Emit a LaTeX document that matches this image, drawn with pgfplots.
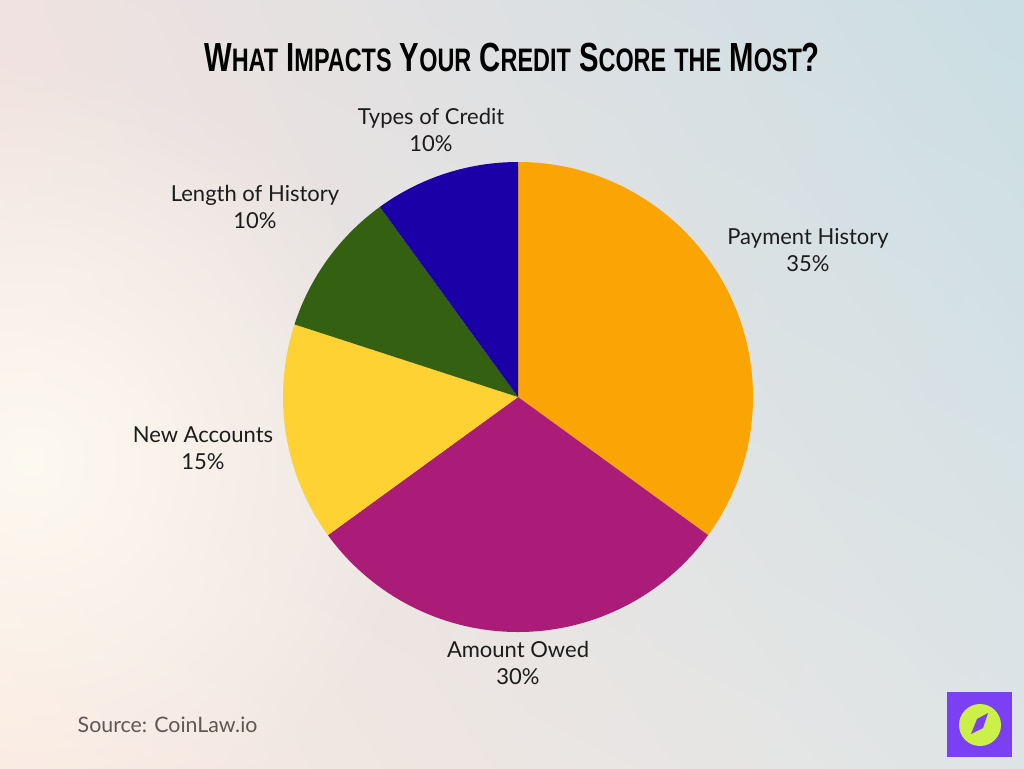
\documentclass[border=0pt]{standalone}
\usepackage{fontspec}
\setmainfont{Lato}
\newfontfamily\titlefont[FakeStretch=0.72]{Liberation Sans}
\usepackage{pgfplots}
\usepackage{pgfplotstable}
\pgfplotsset{compat=1.18}
\usetikzlibrary{shadings, fadings}
\tikzfading[name=softglow, inner color=transparent!0, outer color=transparent!100]

% slice colours, in table order
\definecolor{slice0}{RGB}{251,165,4}
\definecolor{slice1}{RGB}{170,28,120}
\definecolor{slice2}{RGB}{255,210,51}
\definecolor{slice3}{RGB}{51,97,17}
\definecolor{slice4}{RGB}{26,0,166}
\definecolor{bgTL}{RGB}{240,226,224}
\definecolor{bgTR}{RGB}{202,222,228}
\definecolor{bgBL}{RGB}{250,232,224}
\definecolor{bgBR}{RGB}{222,228,230}
\definecolor{glow}{RGB}{254,252,242}
\definecolor{txt}{RGB}{28,28,28}
\definecolor{srcgray}{RGB}{95,86,86}
\definecolor{logoP}{RGB}{124,64,244}
\definecolor{logoG}{RGB}{204,240,74}

% label x/y are pixel positions of the label block
\pgfplotstableread{
name value lx ly
{Payment History} 35 808 250
{Amount Owed} 30 518 663
{New Accounts} 15 203 448
{Length of History} 10 255 207
{Types of Credit} 10 431 130
}\piedata

% cumulative angles, clockwise from the top
\def\cumang{90}
\pgfplotsforeachungrouped \i in {0,...,4}{%
  \pgfplotstablegetelem{\i}{value}\of\piedata
  \expandafter\xdef\csname pieV\i\endcsname{\pgfplotsretval}%
  \pgfmathsetmacro\endang{\cumang-3.6*\pgfplotsretval}%
  \expandafter\xdef\csname pieS\i\endcsname{\cumang}%
  \expandafter\xdef\csname pieE\i\endcsname{\endang}%
  \global\let\cumang\endang
  \pgfplotstablegetelem{\i}{lx}\of\piedata
  \expandafter\xdef\csname pieX\i\endcsname{\pgfplotsretval}%
  \pgfplotstablegetelem{\i}{ly}\of\piedata
  \expandafter\xdef\csname pieY\i\endcsname{\pgfplotsretval}%
  \pgfplotstablegetelem{\i}{name}\of\piedata
  \expandafter\xdef\csname pieN\i\endcsname{\pgfplotsretval}%
}
\def\pieR{176.25pt}
\newcommand\tc[2]{#1{\fontsize{24.4}{29}\selectfont #2}}

\begin{document}
\begin{tikzpicture}
\begin{axis}[
    hide axis,
    x=0.75pt, y=0.75pt,
    xmin=0, xmax=1024,
    ymin=0, ymax=768,
    y dir=reverse,
    clip=false,
]
\shade[upper left=bgTL, upper right=bgTR, lower left=bgBL, lower right=bgBR]
    (axis cs:0,768) rectangle (axis cs:1024,0);
\begin{scope}
  \clip (axis cs:0,768) rectangle (axis cs:1024,0);
  \fill[glow, opacity=0.9, path fading=softglow]
      (axis cs:30,460) circle[radius=300pt];
\end{scope}

\pgfplotsinvokeforeach{0,...,4}{%
  \edef\tmp{\noexpand\fill[slice#1] (axis cs:518,397) -- ++(\csname pieS#1\endcsname:\noexpand\pieR)
     arc[start angle=\csname pieS#1\endcsname, end angle=\csname pieE#1\endcsname, radius=\noexpand\pieR] -- cycle;}
  \tmp
  \edef\tmp{\noexpand\node[align=center, text=txt, font=\noexpand\fontsize{16.5}{20.5}\noexpand\selectfont]
     at (axis cs:\csname pieX#1\endcsname,\csname pieY#1\endcsname)
     {\csname pieN#1\endcsname\noexpand\\\csname pieV#1\endcsname\noexpand\%};}
  \tmp
}

% title
\node[text=black, font=\titlefont\bfseries\fontsize{30.5}{36}\selectfont] at (axis cs:512,57)
  {\tc{W}{HAT} \tc{I}{MPACTS} \tc{Y}{OUR} \tc{C}{REDIT} \tc{S}{CORE} \tc{}{THE} \tc{M}{OST}?};

% source
\node[anchor=west, text=srcgray, font=\fontsize{16}{19}\selectfont] at (axis cs:73,725) {Source: CoinLaw.io};

% logo
\fill[logoP] (axis cs:947,692) rectangle (axis cs:1012,757);
\fill[logoG] (axis cs:980,725) circle[radius=15.75pt];
\fill[logoP] (axis cs:971,734) -- (axis cs:977,719) -- (axis cs:988,713) -- (axis cs:983,728) -- cycle;
\end{axis}
\end{tikzpicture}
\end{document}
